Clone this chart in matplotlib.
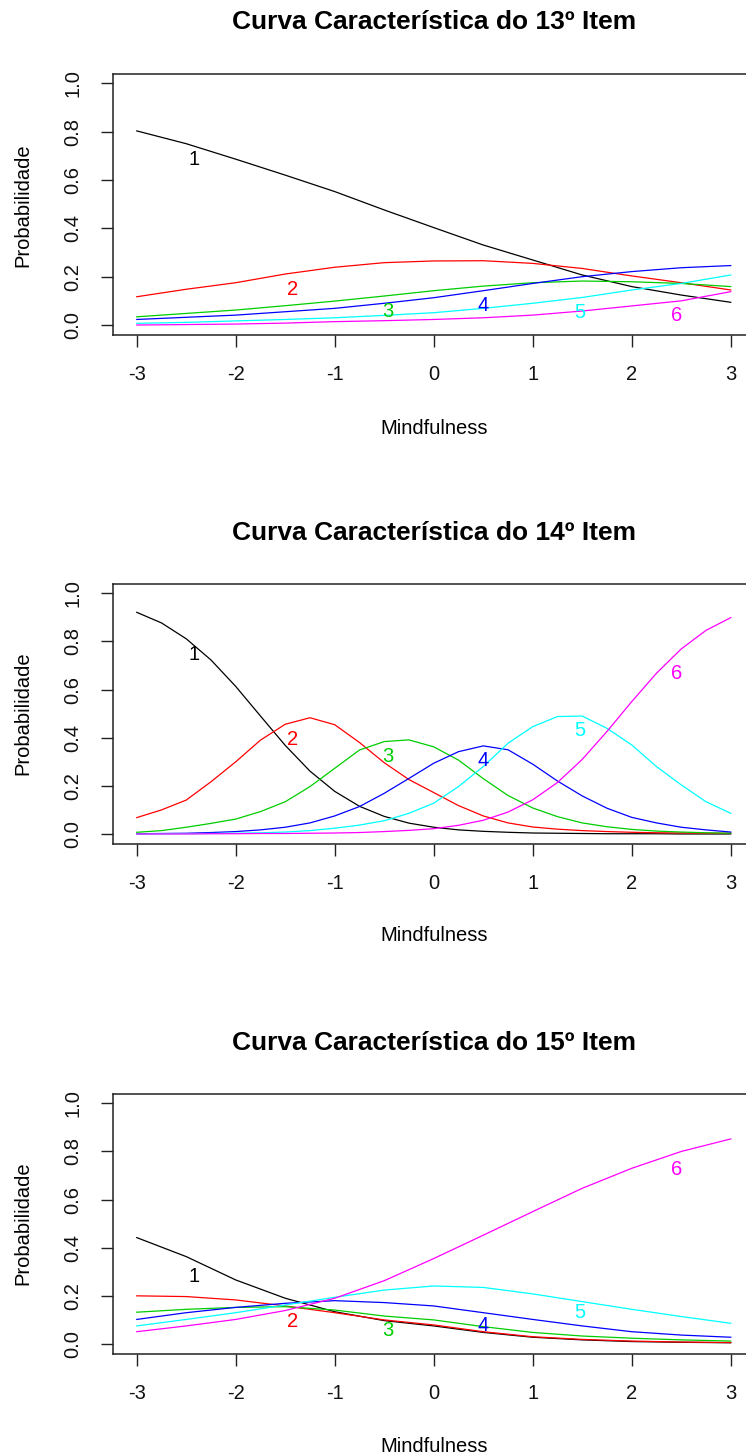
import matplotlib
matplotlib.use('Agg')

import numpy as np
import matplotlib.pyplot as plt

plt.rcParams['font.family'] = ['Liberation Sans', 'DejaVu Sans']

# ========== data ==========
# theta grid (Mindfulness)
THETA = [-3.0, -2.5, -2.0, -1.5, -1.0, -0.5, 0.0, 0.5, 1.0, 1.5, 2.0, 2.5, 3.0]
THETA_FINE = [-3.0, -2.75, -2.5, -2.25, -2.0, -1.75, -1.5, -1.25, -1.0, -0.75, -0.5, -0.25,
              0.0, 0.25, 0.5, 0.75, 1.0, 1.25, 1.5, 1.75, 2.0, 2.25, 2.5, 2.75, 3.0]

# item 13, categories 1..6
item13_c1 = [0.803, 0.750, 0.686, 0.620, 0.552, 0.476, 0.403, 0.331, 0.269, 0.207, 0.159, 0.124, 0.094]
item13_c2 = [0.117, 0.148, 0.175, 0.211, 0.239, 0.258, 0.265, 0.266, 0.255, 0.234, 0.203, 0.175, 0.145]
item13_c3 = [0.034, 0.048, 0.062, 0.080, 0.099, 0.120, 0.142, 0.161, 0.175, 0.182, 0.179, 0.172, 0.159]
item13_c4 = [0.023, 0.032, 0.041, 0.055, 0.069, 0.090, 0.113, 0.142, 0.172, 0.200, 0.221, 0.237, 0.246]
item13_c5 = [0.007, 0.011, 0.017, 0.023, 0.030, 0.040, 0.051, 0.069, 0.090, 0.114, 0.145, 0.172, 0.207]
item13_c6 = [0.000, 0.002, 0.004, 0.008, 0.014, 0.018, 0.023, 0.030, 0.041, 0.058, 0.079, 0.100, 0.138]

# item 14 (sharper curves -> finer grid)
item14_c1 = [0.921, 0.877, 0.811, 0.723, 0.613, 0.490, 0.368, 0.261, 0.177, 0.115, 0.073, 0.045,
             0.028, 0.017, 0.011, 0.007, 0.004, 0.003, 0.002, 0.001, 0.001, 0.001, 0.000, 0.000, 0.000]
item14_c2 = [0.068, 0.100, 0.141, 0.217, 0.300, 0.390, 0.456, 0.483, 0.454, 0.380, 0.296, 0.226,
             0.172, 0.118, 0.075, 0.046, 0.029, 0.020, 0.014, 0.010, 0.007, 0.005, 0.004, 0.003, 0.003]
item14_c3 = [0.007, 0.014, 0.028, 0.044, 0.062, 0.093, 0.134, 0.197, 0.273, 0.349, 0.384, 0.391,
             0.362, 0.307, 0.230, 0.160, 0.108, 0.072, 0.046, 0.030, 0.019, 0.012, 0.008, 0.005, 0.003]
item14_c4 = [0.001, 0.002, 0.003, 0.006, 0.010, 0.017, 0.028, 0.046, 0.075, 0.114, 0.169, 0.231,
             0.294, 0.342, 0.366, 0.350, 0.290, 0.220, 0.158, 0.107, 0.069, 0.046, 0.028, 0.017, 0.008]
item14_c5 = [0.000, 0.001, 0.001, 0.002, 0.003, 0.005, 0.008, 0.014, 0.024, 0.037, 0.055, 0.086,
             0.128, 0.197, 0.280, 0.377, 0.446, 0.488, 0.490, 0.439, 0.370, 0.280, 0.204, 0.134, 0.086]
item14_c6 = [0.000, 0.000, 0.000, 0.001, 0.001, 0.002, 0.002, 0.003, 0.004, 0.006, 0.010, 0.015,
             0.022, 0.036, 0.057, 0.091, 0.142, 0.214, 0.310, 0.426, 0.550, 0.668, 0.769, 0.846, 0.899]

# item 15
item15_c1 = [0.442, 0.363, 0.266, 0.190, 0.134, 0.097, 0.075, 0.048, 0.028, 0.017, 0.010, 0.007, 0.005]
item15_c2 = [0.200, 0.197, 0.183, 0.158, 0.130, 0.100, 0.079, 0.051, 0.030, 0.019, 0.012, 0.008, 0.006]
item15_c3 = [0.132, 0.144, 0.152, 0.155, 0.141, 0.116, 0.100, 0.072, 0.048, 0.033, 0.024, 0.017, 0.012]
item15_c4 = [0.102, 0.130, 0.152, 0.169, 0.180, 0.172, 0.158, 0.130, 0.102, 0.075, 0.051, 0.037, 0.028]
item15_c5 = [0.075, 0.102, 0.130, 0.162, 0.194, 0.224, 0.241, 0.235, 0.208, 0.176, 0.144, 0.114, 0.086]
item15_c6 = [0.051, 0.075, 0.102, 0.139, 0.190, 0.263, 0.355, 0.452, 0.550, 0.647, 0.730, 0.800, 0.852]

# category labels drawn on the curves
CAT_NAMES = ['1', '2', '3', '4', '5', '6']
LABEL_X = [-2.42, -1.43, -0.46, 0.50, 1.48, 2.45]
label13_y = [0.686, 0.145, 0.055, 0.079, 0.051, 0.041]
label14_y = [0.744, 0.393, 0.321, 0.307, 0.429, 0.665]
label15_y = [0.280, 0.093, 0.058, 0.075, 0.130, 0.726]

TITLES = ['Curva Característica do 13º Item',
          'Curva Característica do 14º Item',
          'Curva Característica do 15º Item']
XTICKS = [-3, -2, -1, 0, 1, 2, 3]
YTICKS = [0.0, 0.2, 0.4, 0.6, 0.8, 1.0]

# ========== style / layout (pixels of the 746x1456 picture) ==========
W, H = 746, 1456
COLORS = ['black', '#FF0000', '#00CD00', '#0000FF', '#00FFFF', '#FF00FF']
BOX_LEFT, BOX_RIGHT = 113, 754.5        # right edge falls outside the picture
BOX_TOPS = [73.6, 583.7, 1093.7]
BOX_BOTTOMS = [334.7, 843.6, 1353.6]
TITLE_Y = [22, 533, 1043]
XLABEL_Y = [428, 935, 1446]
YLABEL_Y = [205, 713, 1223]
PT = 72.0 / 100                         # one pixel in points at dpi=100

panels = [
    (THETA, [item13_c1, item13_c2, item13_c3, item13_c4, item13_c5, item13_c6], label13_y),
    (THETA_FINE, [item14_c1, item14_c2, item14_c3, item14_c4, item14_c5, item14_c6], label14_y),
    (THETA, [item15_c1, item15_c2, item15_c3, item15_c4, item15_c5, item15_c6], label15_y),
]

fig = plt.figure(figsize=(W / 100, H / 100), dpi=100)
fig.patch.set_facecolor('white')

for i, (theta, curves, lab_y) in enumerate(panels):
    top, bottom = BOX_TOPS[i], BOX_BOTTOMS[i]
    ax = fig.add_axes([BOX_LEFT / W, 1 - bottom / H, (BOX_RIGHT - BOX_LEFT) / W, (bottom - top) / H])

    for k, ys in enumerate(curves):
        ax.plot(theta, ys, color=COLORS[k], linewidth=0.9, solid_joinstyle='round')
        ax.text(LABEL_X[k], lab_y[k], CAT_NAMES[k], color=COLORS[k], fontsize=14.5,
                ha='center', va='center')

    # R style: 4% padding around the data range
    ax.set_xlim(-3.24, 3.24)
    ax.set_ylim(-0.04, 1.04)
    ax.set_xticks(XTICKS)
    ax.set_xticklabels([str(t) for t in XTICKS])
    ax.set_yticks(YTICKS)
    ax.set_yticklabels([f'{t:.1f}' for t in YTICKS])
    ax.tick_params(length=12 * PT, width=1.0, color='#222222', labelsize=14.5,
                   labelcolor='#111111', pad=28 * PT)
    for lab in ax.get_xticklabels():
        lab.set_va('center')
    for lab in ax.get_yticklabels():
        lab.set_rotation(90)
        lab.set_ha('center')
        lab.set_va('center')
    for sp in ax.spines.values():
        sp.set_linewidth(1.1)
        sp.set_color('#222222')

    cx = (BOX_LEFT + BOX_RIGHT) / 2 / W
    fig.text(cx, 1 - TITLE_Y[i] / H, TITLES[i], ha='center', va='center',
             fontsize=19, fontweight='bold')
    fig.text(cx, 1 - XLABEL_Y[i] / H, 'Mindfulness', ha='center', va='center', fontsize=14.5)
    fig.text(23 / W, 1 - YLABEL_Y[i] / H, 'Probabilidade', ha='center', va='center',
             rotation=90, fontsize=14.5)

fig.savefig('out.png', dpi=100)
